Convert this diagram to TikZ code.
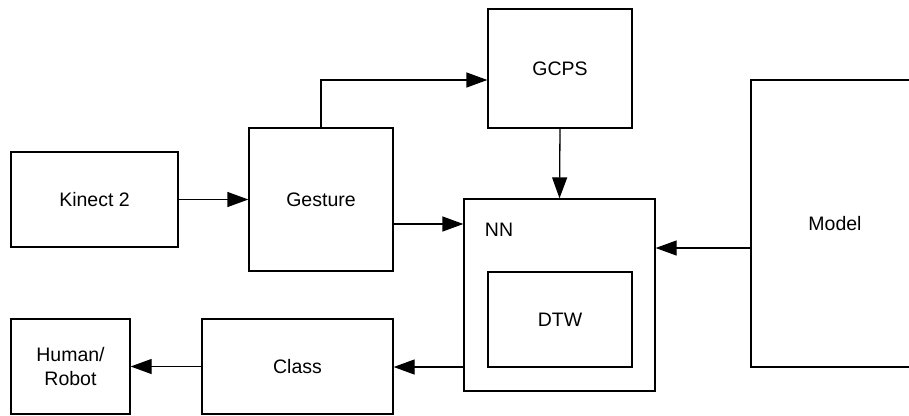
\documentclass[tikz,border=0pt]{standalone}
\usepackage{fontspec}
\setmainfont{Liberation Sans}
\usetikzlibrary{arrows.meta}
\begin{document}
\begin{tikzpicture}[x=1pt,y=-1pt,
  box/.style={draw=black, line width=1.3pt, inner sep=0pt, align=center,
    font=\fontsize{19.5pt}{24pt}\selectfont},
  lbl/.style={inner sep=0pt, font=\fontsize{19.5pt}{24pt}\selectfont},
  conn/.style={line width=1.3pt, -{Triangle[length=21pt,width=15pt]}}]
\useasboundingbox (0,0) rectangle (909,415);
\clip (0,0) rectangle (909,415);
\node[box, minimum width=167pt, minimum height=95pt] (kin) at (94.5,199.5) {Kinect 2};
\node[box, minimum width=144pt, minimum height=143pt] (ges) at (321,199.5) {Gesture};
\node[box, minimum width=144pt, minimum height=119pt] (gcps) at (560,68.5) {GCPS};
\node[box, minimum width=191pt, minimum height=192pt] (nn) at (559.5,295) {};
\node[lbl] (nnl) at (499,230) {NN};
\node[box, minimum width=144pt, minimum height=95pt] (dtw) at (560,319.5) {DTW};
\node[box, minimum width=168pt, minimum height=287pt] (model) at (835,223.5) {Model};
\node[box, minimum width=119pt, minimum height=95pt] (hum) at (70.5,366.5) {Human/\\Robot};
\node[box, minimum width=191pt, minimum height=95pt] (cls) at (297.5,366.5) {Class};
\coordinate (c1) at (0,224);
\coordinate (c2) at (0,248);
\coordinate (c3) at (0,367);
\coordinate (c4) at (0,80);
\draw[conn] (kin.east) -- (ges.west);
\draw[conn] (ges.north) |- (gcps.west |- c4);
\draw[conn] (gcps.south) -- (nn.north);
\draw[conn] (ges.east |- c1) -- (nn.west |- c1);
\draw[conn] (model.west |- c2) -- (nn.east |- c2);
\draw[conn] (nn.west |- c3) -- (cls.east |- c3);
\draw[conn] (cls.west) -- (hum.east);
\end{tikzpicture}
\end{document}
